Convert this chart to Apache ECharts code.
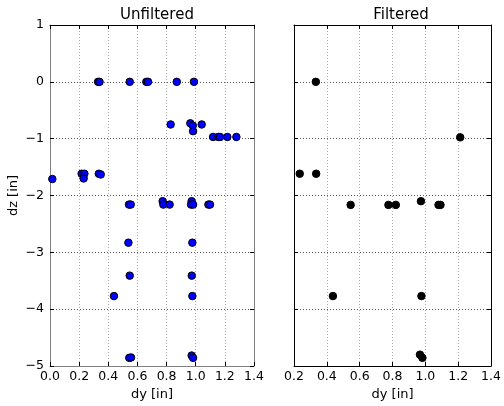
<!DOCTYPE html>
<html><head><meta charset="utf-8">
<script src="https://cdn.jsdelivr.net/npm/echarts@6/dist/echarts.min.js"></script>
<style>html,body{margin:0;padding:0;background:#fff}#c{width:504px;height:406px}</style>
</head><body><div id="c"></div>
<script>
const unfilteredDy = [0.33,0.34,0.547,0.661,0.673,0.870,0.988,
  0.828,0.963,0.98,0.982,1.041,
  1.119,1.155,1.167,1.217,1.279,
  0.016,0.217,0.236,0.231,0.335,0.348,
  0.542,0.554,0.773,0.778,0.821,0.972,0.968,0.982,1.087,1.098,
  0.538,0.977,
  0.547,0.973,
  0.439,0.977,
  0.544,0.556,0.972,0.982];
const unfilteredDz = [0,0,0,0,0,0,0,
  -0.75,-0.73,-0.77,-0.868,-0.75,
  -0.97,-0.97,-0.97,-0.97,-0.97,
  -1.71,-1.617,-1.617,-1.70,-1.617,-1.63,
  -2.16,-2.16,-2.10,-2.16,-2.16,-2.10,-2.16,-2.16,-2.16,-2.16,
  -2.83,-2.83,
  -3.41,-3.41,
  -3.77,-3.77,
  -4.857,-4.85,-4.816,-4.857];
const filteredDy = [0.333,1.212,0.235,0.335,0.545,0.775,0.82,0.973,1.08,1.092,0.437,0.976,0.967,0.982];
const filteredDz = [0,-0.977,-1.617,-1.617,-2.165,-2.165,-2.165,-2.10,-2.165,-2.165,-3.77,-3.77,-4.80,-4.857];
const titles = ['Unfiltered','Filtered'];
const xLabel = 'dy [in]';
const yLabel = 'dz [in]';

const FONT = 'DejaVu Sans';
const pairs = (xs, ys) => xs.map((x,i)=>[x, ys[i]]);
const fmtY = v => String(Math.round(v)).replace('-', '\u2212');
const fmtX = v => v.toFixed(1);

function xAx(grid, min, lineColor, withLabel) {
  return {
    type:'value', gridIndex:grid, position:'bottom', min:min, max:1.4, interval:0.2,
    name: withLabel ? xLabel : '', nameLocation:'middle', nameGap:22,
    nameTextStyle:{fontFamily:FONT, fontSize:13, color:'#000'},
    axisLine:{show:true, onZero:false, lineStyle:{color:lineColor, width:1}},
    axisTick:{show:true, inside:true, length:4, lineStyle:{color:'#000'}},
    axisLabel:{show:true, formatter:fmtX, fontFamily:FONT, fontSize:12.5, color:'#000', margin:4},
    splitLine:{show:true, lineStyle:{color:'#aaa', type:[1,2], width:1}}
  };
}
function xTop(grid, min) {
  return {
    type:'value', gridIndex:grid, position:'top', min:min, max:1.4, interval:0.2,
    axisLine:{show:true, onZero:false, lineStyle:{color:'#000', width:1}},
    axisTick:{show:true, inside:true, length:4, lineStyle:{color:'#000'}},
    axisLabel:{show:false}, splitLine:{show:false}
  };
}
function yAx(grid, lineColor, showLabel) {
  return {
    type:'value', gridIndex:grid, position:'left', min:-5, max:1, interval:1,
    name: showLabel ? yLabel : '', nameLocation:'middle', nameGap:30,
    nameTextStyle:{fontFamily:FONT, fontSize:13, color:'#000'},
    axisLine:{show:true, onZero:false, lineStyle:{color:lineColor, width:1}},
    axisTick:{show:true, inside:true, length:4, lineStyle:{color:'#000'}},
    axisLabel:{show:showLabel, formatter:fmtY, fontFamily:FONT, fontSize:12.5, color:'#000', margin:6},
    splitLine:{show:true, lineStyle:{color:'#555', type:[1,2], width:1}}
  };
}
function yRight(grid, lineColor) {
  return {
    type:'value', gridIndex:grid, position:'right', min:-5, max:1, interval:1,
    axisLine:{show:true, onZero:false, lineStyle:{color:lineColor, width:1}},
    axisTick:{show:true, inside:true, length:4, lineStyle:{color:'#000'}},
    axisLabel:{show:false}, splitLine:{show:false}
  };
}

const chart = echarts.init(document.getElementById('c'), null, {renderer:'canvas'});
chart.setOption({
  animation:false,
  backgroundColor:'#fff',
  title:[
    {text:titles[0], left:152, top:3, textAlign:'center', textStyle:{fontFamily:FONT, fontSize:15, fontWeight:'normal', color:'#000'}},
    {text:titles[1], left:396, top:3, textAlign:'center', textStyle:{fontFamily:FONT, fontSize:15, fontWeight:'normal', color:'#000'}}
  ],
  grid:[
    {left:50, top:25, width:204, height:347},
    {left:294, top:25, width:204, height:347}
  ],
  xAxis:[ xAx(0, 0, '#808080', true), xAx(1, 0.2, '#000', true), xTop(0, 0), xTop(1, 0.2) ],
  yAxis:[ yAx(0, '#808080', true), yAx(1, '#000', false), yRight(0, '#808080'), yRight(1, '#000') ],
  series:[
    {type:'scatter', xAxisIndex:0, yAxisIndex:0, data:pairs(unfilteredDy, unfilteredDz), symbolSize:7.5,
     itemStyle:{color:'#0000ff', borderColor:'#000', borderWidth:1, opacity:1}},
    {type:'scatter', xAxisIndex:1, yAxisIndex:1, data:pairs(filteredDy, filteredDz), symbolSize:7.5,
     itemStyle:{color:'#000', borderColor:'#000', borderWidth:1, opacity:1}}
  ]
});
</script></body></html>
